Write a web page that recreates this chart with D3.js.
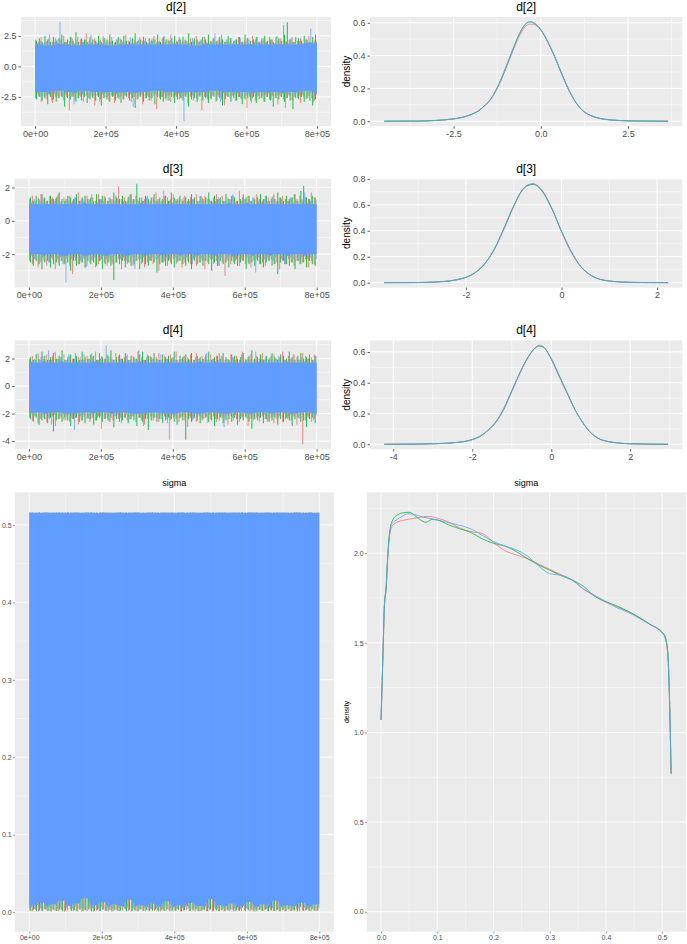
<!DOCTYPE html>
<html><head><meta charset="utf-8">
<script src="https://cdn.jsdelivr.net/npm/d3@7"></script>
<style>body{margin:0;background:#fff}svg{display:block}</style>
</head><body><svg id="c" width="687" height="944"></svg>
<script>
const chainColors = ["#F8766D", "#00BA38", "#619CFF"];
const iterMax = 800000;
const traceXTicks = [0, 200000, 400000, 600000, 800000];
const traceXLabels = ["0e+00", "2e+05", "4e+05", "6e+05", "8e+05"];

// ---------- d[2] trace (per-chain envelope highs / lows along the run) ----------
const d2RedHi = [2.2,2.0,2.4,1.9,2.1,2.6,2.0,2.3,1.9,2.2,2.5,2.0,2.1,2.3,1.9,2.4,2.2,2.0,2.7,2.1,2.0,2.3,1.9,2.2,2.5,2.0,2.1,2.4,1.9,2.2,2.3,2.0,2.6,2.1,1.9,2.2,2.0,2.4,2.1,2.3,1.9,2.2,2.5,2.0,2.1,2.3,2.0,2.2,2.6,1.9,2.1,2.4,2.0,2.2,1.9,2.3,2.1,2.5,2.0,2.2,2.4,1.9,2.1,2.3,2.0,2.2,2.6,2.0,2.1,2.3,1.9,2.2,2.4,2.0,2.1,2.3,1.9,2.5,2.2,2.0,2.1,2.3,2.0,2.4,2.2,1.9,2.1,2.3,3.4,2.0,2.2,2.4,2.0,2.1,2.3,1.9,2.2,2.5,2.0,2.1];
const d2RedLo = [-2.6,-2.4,-2.9,-2.5,-2.7,-2.3,-3.0,-2.5,-2.6,-2.4,-2.8,-2.5,-3.6,-2.4,-2.7,-2.6,-2.5,-2.9,-2.4,-2.6,-2.5,-3.2,-2.4,-2.7,-2.6,-2.5,-2.8,-2.4,-3.0,-2.6,-2.5,-2.7,-2.4,-2.6,-2.9,-2.5,-2.7,-2.4,-3.1,-2.6,-2.5,-2.8,-2.4,-3.5,-2.6,-2.5,-2.7,-2.4,-2.9,-2.6,-2.5,-2.7,-2.6,-2.4,-3.0,-2.5,-2.8,-2.6,-2.4,-3.6,-2.5,-2.7,-2.6,-2.4,-2.9,-2.5,-2.7,-3.2,-2.5,-2.6,-2.4,-2.8,-2.5,-2.7,-2.6,-3.4,-2.5,-2.6,-2.8,-2.4,-2.6,-2.9,-2.5,-2.7,-2.4,-2.6,-3.1,-2.5,-2.7,-2.6,-2.4,-2.8,-2.5,-2.6,-3.0,-2.5,-2.7,-2.4,-2.6,-2.8];
const d2GreenHi = [2.1,2.3,2.0,2.5,2.2,2.0,2.4,2.1,2.3,2.6,2.0,2.2,2.4,2.1,2.8,2.0,2.3,2.2,2.0,2.4,2.2,2.1,2.5,2.0,2.3,2.2,2.6,2.1,2.0,2.4,2.2,2.5,2.1,2.0,2.3,2.7,2.1,2.2,2.4,2.0,2.3,2.1,2.2,2.6,2.0,2.4,2.2,2.1,2.3,2.5,2.0,2.2,2.4,2.1,2.7,2.0,2.3,2.2,2.1,2.4,2.2,2.6,2.0,2.3,2.1,2.4,2.2,2.0,2.5,2.3,2.1,2.2,2.4,2.0,2.6,2.3,2.1,2.2,2.4,2.0,2.3,2.5,2.1,2.2,2.0,2.4,2.3,2.1,2.6,3.6,2.2,2.0,2.4,2.3,2.1,2.5,2.2,2.0,2.4,2.6];
const d2GreenLo = [-2.7,-2.5,-2.8,-2.6,-3.1,-2.5,-2.7,-2.9,-2.6,-2.5,-3.3,-2.6,-2.7,-2.5,-2.9,-2.6,-2.8,-2.5,-3.0,-2.7,-2.6,-2.8,-2.5,-3.2,-2.6,-2.7,-2.9,-2.5,-2.8,-2.6,-3.0,-2.7,-2.5,-2.8,-2.6,-3.4,-2.7,-2.5,-2.9,-2.6,-2.8,-2.6,-3.1,-2.5,-2.7,-2.9,-2.6,-2.8,-2.5,-3.0,-2.7,-2.6,-2.8,-2.5,-3.3,-2.7,-2.6,-2.9,-2.5,-2.8,-2.6,-3.0,-2.7,-2.5,-2.8,-2.6,-3.2,-2.7,-2.5,-2.9,-2.6,-2.8,-2.5,-3.1,-2.7,-2.6,-2.8,-2.5,-3.0,-2.7,-2.6,-2.9,-2.5,-2.8,-3.3,-2.6,-2.7,-2.5,-2.9,-2.6,-2.8,-3.5,-2.6,-2.7,-2.5,-2.9,-2.6,-2.8,-3.2,-2.7];
const d2BlueHi = [1.9,2.1,1.8,2.0,2.3,1.7,2.0,2.2,3.65,1.9,2.0,1.8,2.4,1.9,2.1,1.7,2.0,2.2,1.9,2.6,1.8,2.0,2.1,1.9,2.3,1.8,2.0,1.7,2.2,1.9,2.1,2.0,1.8,2.4,1.9,2.0,2.2,1.8,2.1,1.9,2.0,2.3,1.8,2.0,1.9,2.5,1.8,2.1,2.0,1.9,2.2,1.8,2.0,2.1,1.9,2.3,1.7,2.0,2.2,1.9,2.0,1.8,2.1,2.7,1.9,2.0,1.8,2.2,2.0,1.9,2.1,1.8,2.3,1.9,2.0,2.2,1.8,2.0,2.4,1.9,2.1,2.0,1.8,2.2,1.9,2.5,2.0,1.8,2.1,1.9,2.3,2.0,1.8,2.1,1.9,2.2,2.0,3.1,1.9,2.0];
const d2BlueLo = [-2.2,-2.5,-2.1,-2.4,-2.3,-2.8,-2.2,-2.4,-2.0,-2.6,-2.3,-2.1,-2.5,-3.1,-2.2,-2.4,-2.3,-2.0,-2.6,-2.2,-2.4,-2.1,-2.9,-2.3,-2.2,-2.5,-2.1,-2.4,-2.3,-2.7,-2.2,-2.4,-2.1,-2.3,-3.3,-2.2,-2.5,-2.3,-2.1,-2.4,-2.6,-2.2,-2.3,-2.0,-2.5,-2.2,-2.8,-2.3,-2.1,-2.4,-2.2,-2.6,-4.49,-2.3,-2.1,-2.4,-2.2,-2.7,-2.3,-2.1,-2.5,-2.2,-2.4,-2.0,-2.3,-2.9,-2.2,-2.4,-2.1,-2.5,-2.3,-2.2,-2.6,-2.1,-2.4,-2.3,-3.0,-2.2,-2.5,-2.1,-2.4,-2.3,-2.2,-2.7,-2.1,-2.4,-2.3,-2.2,-3.4,-2.3,-2.1,-2.5,-2.2,-2.4,-2.3,-2.0,-2.6,-2.2,-2.9,-2.3];

// ---------- d[3] trace ----------
const d3RedHi = [1.3,1.5,1.2,1.4,1.6,1.3,1.2,1.5,1.4,1.3,1.6,1.2,1.4,1.3,1.5,1.2,1.4,1.7,1.3,1.2,1.5,1.3,1.4,1.2,1.6,1.3,1.5,1.2,1.4,1.3,1.5,2.06,1.3,1.4,1.2,1.6,1.3,1.5,1.2,1.4,1.3,1.5,1.2,1.4,1.7,1.3,1.2,1.5,1.4,1.3,1.6,1.2,1.4,1.3,1.5,1.2,1.4,1.3,1.6,1.2,1.4,1.5,1.3,1.2,1.4,1.6,1.3,1.5,1.2,1.4,1.3,1.5,1.2,1.8,1.4,1.3,1.5,1.2,1.4,1.6,1.3,1.2,1.5,1.4,1.3,1.6,1.2,1.4,1.5,1.3,1.2,1.4,1.6,1.3,1.5,1.2,1.4,1.3,1.7,1.4];
const d3RedLo = [-2.4,-2.6,-2.3,-2.8,-2.5,-2.4,-2.7,-2.5,-2.3,-2.9,-2.5,-2.4,-2.6,-2.3,-2.7,-3.2,-2.4,-2.6,-2.5,-2.3,-2.7,-2.5,-2.4,-2.8,-2.6,-2.3,-2.5,-2.7,-2.4,-2.6,-2.5,-2.3,-2.9,-2.4,-2.6,-2.5,-2.7,-2.4,-2.3,-2.6,-2.8,-2.5,-2.4,-2.6,-2.3,-3.0,-2.5,-2.4,-2.7,-2.5,-2.3,-2.6,-2.4,-2.8,-2.5,-2.4,-2.6,-2.3,-2.7,-2.5,-2.4,-2.9,-2.5,-2.3,-2.6,-2.4,-2.7,-2.5,-3.3,-2.4,-2.6,-2.5,-2.3,-2.7,-2.4,-2.6,-2.5,-2.8,-2.4,-2.3,-2.6,-2.5,-2.7,-2.4,-2.3,-2.6,-2.5,-2.9,-2.4,-2.6,-2.3,-2.5,-2.7,-2.4,-2.6,-2.5,-2.3,-2.8,-2.4,-2.6];
const d3GreenHi = [1.4,1.2,1.5,1.3,1.6,1.4,1.2,1.5,1.3,1.4,1.7,1.3,1.2,1.5,1.4,1.3,1.6,1.2,1.4,1.5,1.3,1.4,1.2,1.6,1.3,1.5,1.4,1.2,1.3,1.7,1.4,1.3,1.5,1.2,1.4,1.6,1.3,2.23,1.4,1.2,1.5,1.3,1.4,1.6,1.2,1.4,1.3,1.5,1.2,1.7,1.4,1.3,1.5,1.2,1.4,1.3,1.6,1.4,1.2,1.5,1.3,1.4,1.7,1.2,1.5,1.3,1.4,1.2,1.6,1.3,1.5,1.4,1.2,1.3,1.6,1.4,1.5,1.2,1.3,1.4,1.6,1.3,1.5,1.2,1.4,1.3,1.7,1.4,1.2,1.5,1.3,1.4,1.6,1.2,1.8,2.1,1.4,1.3,1.5,1.4];
const d3GreenLo = [-2.5,-2.7,-2.4,-2.6,-2.9,-2.5,-2.4,-2.8,-2.6,-2.5,-2.7,-2.4,-2.6,-2.5,-3.0,-2.4,-2.7,-2.6,-2.5,-2.8,-2.4,-2.6,-2.5,-2.7,-2.4,-2.9,-2.6,-2.5,-2.7,-3.55,-2.5,-2.6,-2.4,-2.8,-2.5,-2.7,-2.6,-2.4,-2.9,-2.5,-2.6,-2.7,-2.4,-2.5,-3.1,-2.6,-2.5,-2.7,-2.4,-2.6,-2.8,-2.5,-2.4,-2.6,-2.7,-2.5,-2.9,-2.4,-2.6,-2.5,-2.7,-2.4,-2.6,-3.0,-2.5,-2.7,-2.4,-2.6,-2.5,-2.8,-2.4,-2.6,-2.7,-2.5,-2.4,-2.9,-2.6,-2.5,-2.7,-2.4,-2.6,-2.8,-2.5,-2.4,-2.7,-2.6,-3.2,-2.5,-2.4,-2.6,-2.7,-2.5,-2.9,-2.4,-2.6,-2.5,-2.8,-2.4,-2.6,-2.7];
const d3BlueHi = [1.1,1.3,1.0,1.2,1.4,1.1,1.0,1.3,1.2,1.5,1.1,1.0,1.3,1.2,1.1,1.4,1.0,1.2,1.3,1.1,1.2,1.6,1.0,1.1,1.3,1.2,1.0,1.4,1.1,1.2,1.3,1.0,1.2,1.1,1.5,1.2,1.0,1.3,1.1,1.2,1.4,1.1,1.0,1.2,1.3,1.1,1.8,1.0,1.2,1.1,1.3,1.2,1.0,1.4,1.1,1.2,1.3,1.0,1.1,1.5,1.2,1.0,1.3,1.1,1.2,1.4,1.0,1.2,1.1,1.3,1.6,1.1,1.0,1.2,1.3,1.1,1.2,1.4,1.0,1.2,1.1,1.3,1.2,1.0,1.5,1.1,1.2,1.3,1.0,1.2,1.4,1.1,1.2,1.0,1.3,1.7,1.1,1.2,1.0,1.3];
const d3BlueLo = [-2.1,-2.3,-2.0,-2.4,-2.2,-2.1,-2.5,-2.2,-2.0,-2.3,-2.2,-2.6,-3.71,-2.1,-2.3,-2.2,-2.0,-2.4,-2.2,-2.8,-2.1,-2.3,-2.2,-2.0,-2.4,-2.1,-2.3,-2.2,-2.5,-2.1,-2.0,-2.3,-2.2,-2.4,-2.1,-2.2,-2.9,-2.0,-2.3,-2.2,-2.1,-2.4,-2.2,-2.0,-2.3,-2.1,-2.5,-2.2,-2.3,-2.0,-2.2,-2.4,-2.1,-2.3,-2.2,-2.0,-2.6,-2.2,-2.1,-2.3,-2.4,-2.0,-2.2,-2.3,-2.1,-2.7,-2.2,-2.0,-2.3,-2.1,-2.2,-2.4,-2.1,-2.3,-2.0,-2.2,-2.5,-2.1,-3.1,-2.2,-2.0,-2.3,-2.2,-2.1,-2.4,-2.2,-2.0,-2.3,-2.6,-2.1,-2.2,-2.3,-2.0,-2.4,-2.2,-2.1,-2.3,-2.2,-2.0,-2.3];

// ---------- d[4] trace ----------
const d4RedHi = [2.0,2.2,1.9,2.4,2.1,2.0,2.3,1.9,2.2,2.5,2.0,2.1,2.3,1.9,2.2,2.0,2.4,2.1,1.9,2.3,2.2,2.0,2.1,2.5,1.9,2.2,2.0,2.3,2.1,1.9,2.4,2.2,2.0,2.1,2.3,1.9,2.2,2.0,2.6,2.1,1.9,2.3,2.2,2.0,2.1,2.4,1.9,2.2,2.0,2.3,2.1,2.5,1.9,2.0,2.2,2.1,2.3,1.9,2.4,2.0,2.2,2.1,1.9,2.3,2.0,2.2,2.4,2.1,1.9,2.0,2.3,2.1,2.2,1.9,2.5,2.0,2.1,2.3,1.9,2.2,2.0,2.4,2.1,1.9,2.2,2.3,2.0,2.1,2.5,1.9,2.2,2.0,2.3,2.1,1.9,2.4,2.2,2.0,2.1,2.3];
const d4RedLo = [-2.3,-2.5,-2.2,-2.7,-2.4,-2.3,-2.6,-2.4,-2.2,-2.9,-2.4,-2.3,-2.5,-2.2,-2.6,-2.4,-2.3,-2.8,-2.5,-2.2,-2.4,-2.6,-2.3,-2.5,-2.2,-3.1,-2.4,-2.3,-2.6,-2.5,-2.2,-2.4,-2.7,-2.3,-2.5,-2.4,-2.2,-2.6,-2.3,-2.5,-2.8,-2.4,-2.2,-2.5,-2.3,-2.6,-2.4,-2.2,-2.7,-2.5,-2.3,-2.4,-2.6,-2.2,-2.5,-3.0,-2.3,-2.4,-2.6,-2.2,-2.5,-2.3,-2.7,-2.4,-2.2,-2.6,-2.5,-2.3,-2.4,-2.8,-2.2,-2.5,-2.4,-2.6,-2.3,-2.2,-2.9,-2.4,-2.5,-2.3,-2.6,-2.2,-2.4,-2.5,-2.3,-2.7,-2.4,-2.2,-2.6,-2.4,-2.3,-2.5,-2.2,-2.8,-2.4,-4.23,-2.5,-2.3,-2.6,-2.4];
const d4GreenHi = [2.1,1.9,2.3,2.0,2.5,2.2,1.9,2.1,2.4,2.0,2.2,2.6,1.9,2.1,2.3,2.0,2.2,1.9,2.5,2.1,2.0,2.3,2.2,1.9,2.4,2.1,2.0,2.2,2.6,1.9,2.1,2.3,2.0,2.4,1.9,2.2,2.1,2.0,2.3,2.5,1.9,2.2,2.1,2.4,2.0,1.9,2.3,2.1,2.2,2.0,2.5,1.9,2.2,2.1,2.3,2.0,2.4,1.9,2.2,2.1,2.0,2.3,2.5,1.9,2.1,2.2,2.0,2.4,2.1,1.9,2.3,2.2,2.0,2.1,2.4,1.9,2.2,2.6,2.0,2.1,2.3,1.9,2.2,2.0,2.4,2.1,1.9,2.3,2.2,2.0,2.5,2.1,1.9,2.2,2.4,2.0,2.1,2.3,1.9,2.2];
const d4GreenLo = [-2.4,-2.6,-2.3,-2.8,-2.5,-2.4,-2.7,-2.3,-3.3,-2.5,-2.4,-2.6,-2.3,-2.5,-2.9,-2.4,-2.3,-2.6,-2.5,-2.7,-2.3,-2.4,-2.8,-2.5,-2.3,-2.6,-2.4,-2.5,-2.3,-3.0,-2.4,-2.6,-2.5,-2.3,-2.7,-2.4,-2.5,-2.9,-2.3,-2.6,-2.4,-3.2,-2.5,-2.3,-2.6,-2.4,-2.7,-2.5,-2.3,-2.4,-2.6,-2.8,-2.3,-2.5,-3.9,-2.4,-2.6,-2.3,-2.5,-2.7,-2.4,-2.3,-2.6,-2.5,-2.9,-2.4,-2.3,-2.7,-2.5,-2.4,-2.6,-2.3,-2.8,-2.4,-2.5,-2.3,-2.6,-3.1,-2.4,-2.5,-2.3,-2.7,-2.4,-2.6,-2.5,-2.3,-2.8,-2.4,-2.6,-2.3,-2.5,-2.9,-2.4,-2.3,-2.6,-2.5,-3.0,-2.4,-2.3,-2.7];
const d4BlueHi = [1.8,2.0,1.7,1.9,2.2,1.8,2.6,1.9,1.7,2.0,2.1,1.8,1.9,2.3,1.7,2.0,1.8,2.1,1.9,1.7,2.0,2.4,1.8,1.9,2.0,1.7,2.96,1.8,2.1,1.9,1.7,2.0,1.8,2.2,1.9,1.7,2.0,2.5,1.8,1.9,2.1,1.7,2.0,1.8,1.9,2.3,1.7,2.0,1.8,2.1,1.9,1.7,2.0,2.2,1.8,1.9,1.7,2.1,2.0,1.8,1.9,2.4,1.7,2.0,1.8,1.9,2.2,1.7,2.0,1.8,2.1,1.9,1.7,2.3,1.8,2.0,1.9,1.7,2.5,1.8,2.0,1.9,1.7,2.1,1.8,2.0,2.2,1.7,1.9,1.8,2.0,2.3,1.7,1.9,2.1,1.8,2.0,1.7,1.9,2.2];
const d4BlueLo = [-2.0,-2.2,-1.9,-2.4,-2.1,-2.0,-2.3,-2.8,-2.1,-1.9,-2.2,-2.0,-2.5,-2.1,-2.3,-3.2,-2.0,-2.2,-2.1,-1.9,-2.4,-2.1,-2.0,-2.3,-2.2,-1.9,-2.1,-2.6,-2.0,-2.2,-2.1,-2.3,-1.9,-2.0,-2.4,-2.2,-2.1,-2.0,-2.3,-2.9,-2.1,-2.0,-2.2,-1.9,-2.3,-2.1,-2.0,-2.4,-3.9,-2.1,-2.2,-2.0,-2.3,-2.1,-1.9,-2.2,-2.5,-2.0,-2.1,-2.3,-2.0,-2.2,-2.1,-1.9,-2.4,-2.0,-2.2,-3.0,-2.1,-2.0,-2.3,-2.1,-1.9,-2.2,-2.0,-2.4,-2.1,-2.3,-2.0,-2.2,-1.9,-2.1,-2.6,-2.0,-2.2,-2.1,-2.3,-1.9,-2.0,-2.4,-2.1,-2.2,-2.0,-2.3,-2.1,-1.9,-2.2,-2.0,-2.5,-2.1];

// ---------- sigma trace ----------
const sigRedHi = [.5160,.5161,.5159,.5162,.5160,.5161,.5163,.5159,.5160,.5162,.5161,.5159,.5160,.5162,.5161,.5160,.5159,.5163,.5160,.5161,.5162,.5159,.5160,.5161,.5160,.5162,.5159,.5161,.5160,.5163,.5159,.5161,.5160,.5162,.5160,.5159,.5161,.5162,.5160,.5159,.5161,.5163,.5160,.5159,.5162,.5160,.5161,.5159,.5160,.5162,.5161,.5160,.5159,.5163,.5160,.5161,.5162,.5159,.5160,.5161,.5160,.5162,.5159,.5161,.5160,.5163,.5159,.5161,.5160,.5162,.5160,.5159,.5161,.5162,.5160,.5159,.5161,.5163,.5160,.5159,.5162,.5160,.5161,.5159,.5160,.5162,.5161,.5160,.5159,.5163,.5160,.5161,.5162,.5159,.5160,.5161,.5160,.5162,.5159,.5161];
const sigRedLo = [.0020,.0010,.0030,.0008,.0025,.0040,.0012,.0018,.0030,.0015,.0010,.0028,.0005,.0022,.0035,.0012,.0020,.0038,.0010,.0024,.0016,.0030,.0008,.0020,.0012,.0034,.0018,.0009,.0026,.0014,.0030,.0011,.0022,.0040,.0015,.0008,.0025,.0012,.0032,.0018,.0010,.0024,.0036,.0014,.0020,.0009,.0028,.0016,.0030,.0012,.0022,.0038,.0010,.0018,.0026,.0013,.0034,.0008,.0020,.0015,.0030,.0012,.0024,.0010,.0036,.0018,.0022,.0009,.0028,.0014,.0032,.0011,.0020,.0016,.0025,.0040,.0012,.0022,.0008,.0030,.0018,.0026,.0010,.0034,.0015,.0020,.0012,.0028,.0009,.0036,.0014,.0022,.0030,.0010,.0024,.0018,.0032,.0012,.0020,.0016];
const sigGreenHi = [.5161,.5159,.5160,.5162,.5158,.5161,.5160,.5159,.5162,.5160,.5158,.5161,.5160,.5162,.5159,.5160,.5161,.5158,.5160,.5162,.5159,.5161,.5160,.5158,.5162,.5160,.5159,.5161,.5160,.5158,.5161,.5162,.5159,.5160,.5161,.5158,.5160,.5162,.5159,.5161,.5160,.5158,.5162,.5160,.5159,.5161,.5160,.5158,.5161,.5162,.5159,.5160,.5161,.5158,.5160,.5162,.5159,.5161,.5160,.5158,.5162,.5160,.5159,.5161,.5160,.5158,.5161,.5162,.5159,.5160,.5161,.5158,.5160,.5162,.5159,.5161,.5160,.5158,.5162,.5160,.5159,.5161,.5160,.5158,.5161,.5162,.5159,.5160,.5161,.5158,.5160,.5162,.5159,.5161,.5160,.5158,.5162,.5160,.5159,.5161];
const sigGreenLo = [.0015,.0030,.0010,.0022,.0012,.0035,.0018,.0008,.0026,.0014,.0032,.0011,.0020,.0080,.0016,.0024,.0009,.0030,.0013,.0021,.0038,.0010,.0019,.0027,.0012,.0033,.0016,.0024,.0009,.0030,.0014,.0020,.0070,.0011,.0028,.0017,.0022,.0010,.0036,.0015,.0025,.0012,.0019,.0031,.0009,.0023,.0014,.0034,.0011,.0020,.0016,.0029,.0010,.0024,.0075,.0013,.0021,.0032,.0009,.0018,.0026,.0012,.0035,.0015,.0022,.0010,.0028,.0014,.0020,.0033,.0011,.0025,.0017,.0060,.0012,.0023,.0030,.0010,.0019,.0027,.0014,.0036,.0011,.0021,.0016,.0029,.0009,.0024,.0013,.0031,.0018,.0022,.0010,.0065,.0015,.0026,.0012,.0034,.0017,.0020];
const sigBlueHi = [.5157,.5156,.5158,.5155,.5157,.5159,.5156,.5157,.5155,.5158,.5156,.5157,.5159,.5155,.5156,.5158,.5157,.5156,.5155,.5158,.5157,.5159,.5156,.5155,.5157,.5158,.5156,.5157,.5155,.5159,.5156,.5158,.5157,.5155,.5156,.5158,.5157,.5159,.5156,.5155,.5157,.5158,.5156,.5157,.5155,.5159,.5156,.5157,.5158,.5155,.5156,.5157,.5159,.5156,.5155,.5158,.5157,.5156,.5155,.5158,.5157,.5159,.5156,.5155,.5157,.5158,.5156,.5157,.5155,.5159,.5156,.5158,.5157,.5155,.5156,.5158,.5157,.5159,.5156,.5155,.5157,.5158,.5156,.5157,.5155,.5159,.5156,.5157,.5158,.5155,.5156,.5157,.5159,.5156,.5155,.5158,.5157,.5156,.5155,.5158];
const sigBlueLo = [.006,.004,.009,.005,.012,.004,.007,.005,.010,.004,.006,.015,.005,.008,.004,.007,.011,.005,.004,.018,.006,.005,.009,.004,.007,.013,.005,.006,.004,.010,.005,.008,.004,.006,.016,.005,.007,.004,.009,.005,.006,.004,.011,.005,.007,.004,.008,.014,.005,.006,.004,.009,.005,.007,.004,.012,.006,.005,.008,.004,.007,.005,.017,.006,.004,.009,.005,.007,.004,.011,.005,.006,.004,.008,.005,.013,.006,.004,.007,.005,.010,.004,.006,.005,.015,.004,.007,.005,.009,.006,.004,.008,.005,.012,.006,.004,.007,.005,.010,.005];

// ---------- posterior densities ----------
const d2DensX = [-4.49,-3.5,-3.0,-2.5,-2.2,-2.0,-1.8,-1.6,-1.4,-1.2,-1.0,-0.8,-0.6,-0.4,-0.3,-0.2,0.0,0.2,0.4,0.6,0.8,1.0,1.2,1.4,1.6,1.8,2.2,2.6,3.0,3.65];
const d2DensRed = [0,0.001,0.005,0.015,0.027,0.041,0.062,0.095,0.142,0.220,0.320,0.428,0.525,0.585,0.592,0.590,0.556,0.487,0.394,0.290,0.193,0.117,0.066,0.038,0.022,0.013,0.005,0.002,0.001,0];
const d2DensGreen = [0,0.001,0.005,0.014,0.026,0.041,0.061,0.098,0.147,0.228,0.330,0.440,0.540,0.600,0.606,0.598,0.556,0.482,0.392,0.290,0.193,0.116,0.065,0.037,0.022,0.013,0.005,0.002,0.001,0];
const d2DensBlue = [0,0.001,0.005,0.014,0.026,0.040,0.060,0.097,0.145,0.225,0.325,0.435,0.535,0.597,0.605,0.600,0.560,0.485,0.390,0.285,0.190,0.115,0.065,0.038,0.022,0.013,0.005,0.002,0.001,0];

const d3DensX = [-3.71,-3.0,-2.5,-2.2,-2.0,-1.8,-1.6,-1.4,-1.2,-1.0,-0.8,-0.7,-0.6,-0.5,-0.4,-0.2,0.0,0.2,0.4,0.6,0.8,1.0,1.3,1.7,2.23];
const d3DensRed = [0,0.001,0.008,0.023,0.042,0.078,0.146,0.258,0.415,0.585,0.722,0.752,0.760,0.748,0.710,0.572,0.392,0.236,0.123,0.061,0.027,0.013,0.004,0.001,0];
const d3DensGreen = [0,0.001,0.007,0.021,0.040,0.079,0.148,0.264,0.424,0.594,0.722,0.750,0.758,0.742,0.702,0.568,0.397,0.243,0.127,0.060,0.026,0.012,0.004,0.001,0];
const d3DensBlue = [0,0.001,0.008,0.022,0.041,0.080,0.150,0.262,0.420,0.590,0.725,0.755,0.763,0.745,0.705,0.570,0.395,0.240,0.125,0.060,0.026,0.013,0.004,0.001,0];

const d4DensX = [-4.23,-3.5,-2.9,-2.4,-2.0,-1.8,-1.6,-1.4,-1.2,-1.0,-0.8,-0.6,-0.4,-0.3,-0.2,0.0,0.2,0.4,0.6,0.8,1.0,1.2,1.4,1.6,2.0,2.5,2.96];
const d4DensRed = [0,0.001,0.004,0.011,0.031,0.053,0.090,0.142,0.226,0.340,0.456,0.558,0.630,0.643,0.634,0.553,0.440,0.332,0.224,0.140,0.076,0.038,0.020,0.011,0.003,0.001,0];
const d4DensGreen = [0,0.001,0.004,0.012,0.030,0.051,0.091,0.147,0.233,0.348,0.462,0.561,0.626,0.638,0.630,0.558,0.448,0.338,0.227,0.141,0.075,0.037,0.019,0.011,0.003,0.001,0];
const d4DensBlue = [0,0.001,0.004,0.011,0.030,0.052,0.092,0.145,0.230,0.345,0.460,0.560,0.628,0.640,0.632,0.555,0.445,0.335,0.225,0.140,0.075,0.037,0.020,0.011,0.003,0.001,0];

const sigDensX = [0,0.002,0.004,0.006,0.009,0.012,0.015,0.02,0.03,0.04,0.05,0.06,0.07,0.08,0.09,0.10,0.12,0.14,0.16,0.18,0.20,0.22,0.24,0.26,0.28,0.30,0.32,0.34,0.36,0.38,0.40,0.42,0.44,0.46,0.48,0.50,0.505,0.51,0.513,0.516];
const sigDensRed = [1.07,1.28,1.50,1.70,1.80,1.97,2.09,2.15,2.175,2.183,2.19,2.195,2.20,2.205,2.203,2.195,2.175,2.14,2.12,2.11,2.06,2.015,1.99,1.97,1.94,1.91,1.88,1.85,1.80,1.76,1.725,1.70,1.675,1.64,1.60,1.555,1.53,1.44,1.20,0.77];
const sigDensGreen = [1.07,1.28,1.50,1.71,1.81,1.99,2.11,2.18,2.215,2.225,2.228,2.21,2.185,2.172,2.188,2.185,2.158,2.136,2.115,2.08,2.055,2.04,2.01,1.97,1.935,1.905,1.875,1.85,1.815,1.76,1.73,1.705,1.675,1.64,1.60,1.56,1.54,1.45,1.20,0.77];
const sigDensBlue = [1.07,1.28,1.50,1.71,1.80,1.98,2.10,2.165,2.19,2.21,2.22,2.215,2.205,2.198,2.192,2.185,2.17,2.155,2.135,2.10,2.065,2.04,2.019,1.985,1.93,1.885,1.877,1.85,1.80,1.765,1.73,1.695,1.67,1.635,1.60,1.555,1.53,1.44,1.20,0.77];

// ---------- drawing ----------
const FONT = "'Liberation Sans', Arial, Helvetica, sans-serif";
const svg = d3.select("#c");
let clipCount = 0;

function expandDomain(vals) {
  const [lo, hi] = d3.extent(vals);
  const r = hi - lo;
  return [lo - 0.05 * r, hi + 0.05 * r];
}
function minorOf(ticks, dom) {
  const step = ticks[1] - ticks[0];
  const out = [];
  for (let k = -1; k < ticks.length; k++) {
    const v = ticks[0] + (k + 0.5) * step;
    if (v > dom[0] && v < dom[1]) out.push(v);
  }
  return out;
}
function fmt(ticks, labels) { return (d) => labels[ticks.indexOf(d)]; }

function makePanel(c) {
  const g = svg.append("g");
  const b = c.box;
  const x = d3.scaleLinear().domain(c.xDom).range([b.l, b.r]);
  const y = d3.scaleLinear().domain(c.yDom).range([b.b, b.t]);
  g.append("rect").attr("x", b.l).attr("y", b.t).attr("width", b.r - b.l).attr("height", b.b - b.t).attr("fill", "#EBEBEB");
  const grid = g.append("g").attr("stroke", "#FFFFFF").attr("fill", "none");
  minorOf(c.yTicks, c.yDom).forEach(v => grid.append("line").attr("x1", b.l).attr("x2", b.r).attr("y1", y(v)).attr("y2", y(v)).attr("stroke-width", c.minW));
  minorOf(c.xTicks, c.xDom).forEach(v => grid.append("line").attr("x1", x(v)).attr("x2", x(v)).attr("y1", b.t).attr("y2", b.b).attr("stroke-width", c.minW));
  c.yTicks.forEach(v => grid.append("line").attr("x1", b.l).attr("x2", b.r).attr("y1", y(v)).attr("y2", y(v)).attr("stroke-width", c.majW));
  c.xTicks.forEach(v => grid.append("line").attr("x1", x(v)).attr("x2", x(v)).attr("y1", b.t).attr("y2", b.b).attr("stroke-width", c.majW));
  const id = "clip" + (++clipCount);
  g.append("clipPath").attr("id", id).append("rect").attr("x", b.l).attr("y", b.t).attr("width", b.r - b.l).attr("height", b.b - b.t);
  const plot = g.append("g").attr("clip-path", `url(#${id})`);

  const ax = g.append("g").attr("transform", `translate(0,${b.b})`)
    .call(d3.axisBottom(x).tickValues(c.xTicks).tickFormat(fmt(c.xTicks, c.xLabels)).tickSize(c.tickLen).tickPadding(c.pad));
  const ay = g.append("g").attr("transform", `translate(${b.l},0)`)
    .call(d3.axisLeft(y).tickValues(c.yTicks).tickFormat(fmt(c.yTicks, c.yLabels)).tickSize(c.tickLen).tickPadding(c.pad));
  [ax, ay].forEach(a => {
    a.select(".domain").remove();
    a.attr("font-family", FONT).attr("font-size", c.fs);
    a.selectAll(".tick line").attr("stroke", "#333333").attr("stroke-width", c.tickW);
    a.selectAll(".tick text").attr("fill", "#4D4D4D");
  });
  g.append("text").attr("x", (b.l + b.r) / 2).attr("y", b.t - c.titleGap)
    .attr("text-anchor", "middle").attr("font-family", FONT).attr("font-size", c.titleFs).attr("fill", "#000").text(c.title);
  if (c.yTitle) {
    g.append("text").attr("transform", `translate(${c.yTitleX},${(b.t + b.b) / 2}) rotate(-90)`)
      .attr("text-anchor", "middle").attr("font-family", FONT).attr("font-size", c.yTitleFs).attr("fill", "#000").text(c.yTitle);
  }
  return { x, y, plot };
}

// chains drawn in order; only the last (topmost) chain gets a solid core band,
// the others show as thin excursions beyond it
function drawTrace(p, chains, spikeW, win) {
  chains.forEach((ch, c) => {
    const N = ch.hi.length;
    const idx = d3.range(N);
    const itArea = i => i / (N - 1) * iterMax;
    const itSpike = i => (i + (c + 0.5) / 3) / N * iterMax;
    if (c === chains.length - 1) {
      const nb = i => d3.range(Math.max(0, i - win), Math.min(N - 1, i + win) + 1);
      const coreHi = idx.map(i => d3.min(nb(i), k => ch.hi[k]));
      const coreLo = idx.map(i => d3.max(nb(i), k => ch.lo[k]));
      p.plot.append("path").datum(idx).attr("fill", ch.color)
        .attr("d", d3.area().x(i => p.x(itArea(i))).y0(i => p.y(coreLo[i])).y1(i => p.y(coreHi[i])));
    }
    p.plot.append("g").selectAll("line").data(idx).join("line")
      .attr("x1", i => p.x(itSpike(i))).attr("x2", i => p.x(itSpike(i)))
      .attr("y1", i => p.y(ch.lo[i])).attr("y2", i => p.y(ch.hi[i]))
      .attr("stroke", ch.color).attr("stroke-width", spikeW).attr("stroke-opacity", c === 2 ? 0.75 : 0.9);
  });
}

function drawDensity(p, xs, chains, w) {
  chains.forEach(ch => {
    p.plot.append("path").datum(xs.map((v, i) => [v, ch.vals[i]]))
      .attr("fill", "none").attr("stroke", ch.color).attr("stroke-width", w)
      .attr("d", d3.line().x(d => p.x(d[0])).y(d => p.y(d[1])).curve(d3.curveMonotoneX));
  });
}

const topStyle = { fs: 9, tickLen: 2.5, tickW: 0.8, pad: 2, majW: 1.0, minW: 0.5, titleFs: 12, titleGap: 6, yTitleFs: 10, yTitleX: 349.5 };
const botStyle = { fs: 7, tickLen: 1.6, tickW: 0.6, pad: 1.5, majW: 0.8, minW: 0.4, titleFs: 9, titleGap: 6, yTitleFs: 7, yTitleX: 349 };

const rows = [
  { t: 16.8, b: 126.2 }, { t: 178.7, b: 287.6 }, { t: 340.4, b: 449.2 }, { t: 492.3, b: 931.7 }
];

const traces = [
  { title: "d[2]", l: 21, hi: [d2RedHi, d2GreenHi, d2BlueHi], lo: [d2RedLo, d2GreenLo, d2BlueLo],
    yTicks: [-2.5, 0, 2.5], yLabels: ["-2.5", "0.0", "2.5"],
    densX: d2DensX, dens: [d2DensRed, d2DensGreen, d2DensBlue], dxTicks: [-2.5, 0, 2.5], dxLabels: ["-2.5", "0.0", "2.5"],
    dyTicks: [0, 0.2, 0.4, 0.6], dyLabels: ["0.0", "0.2", "0.4", "0.6"] },
  { title: "d[3]", l: 14.6, hi: [d3RedHi, d3GreenHi, d3BlueHi], lo: [d3RedLo, d3GreenLo, d3BlueLo],
    yTicks: [-2, 0, 2], yLabels: ["-2", "0", "2"],
    densX: d3DensX, dens: [d3DensRed, d3DensGreen, d3DensBlue], dxTicks: [-2, 0, 2], dxLabels: ["-2", "0", "2"],
    dyTicks: [0, 0.2, 0.4, 0.6, 0.8], dyLabels: ["0.0", "0.2", "0.4", "0.6", "0.8"] },
  { title: "d[4]", l: 14.6, hi: [d4RedHi, d4GreenHi, d4BlueHi], lo: [d4RedLo, d4GreenLo, d4BlueLo],
    yTicks: [-4, -2, 0, 2], yLabels: ["-4", "-2", "0", "2"],
    densX: d4DensX, dens: [d4DensRed, d4DensGreen, d4DensBlue], dxTicks: [-4, -2, 0, 2], dxLabels: ["-4", "-2", "0", "2"],
    dyTicks: [0, 0.2, 0.4, 0.6], dyLabels: ["0.0", "0.2", "0.4", "0.6"] }
];

traces.forEach((tr, r) => {
  const allVals = tr.hi.flat().concat(tr.lo.flat());
  const yDom = expandDomain(allVals);
  const pT = makePanel(Object.assign({}, topStyle, {
    box: { l: tr.l, r: 331, t: rows[r].t, b: rows[r].b }, xDom: expandDomain([0, iterMax]), yDom,
    xTicks: traceXTicks, xLabels: traceXLabels, yTicks: tr.yTicks, yLabels: tr.yLabels, title: tr.title
  }));
  drawTrace(pT, [0, 1, 2].map(c => ({ hi: tr.hi[c], lo: tr.lo[c], color: chainColors[c] })), 1.0, 2);

  const allDens = tr.dens.flat().concat([0]);
  const pD = makePanel(Object.assign({}, topStyle, {
    box: { l: 370, r: 682.3, t: rows[r].t, b: rows[r].b }, xDom: expandDomain(d3.extent(allVals)), yDom: expandDomain(allDens),
    xTicks: tr.dxTicks, xLabels: tr.dxLabels, yTicks: tr.dyTicks, yLabels: tr.dyLabels, title: tr.title, yTitle: "density"
  }));
  drawDensity(pD, tr.densX, [0, 1, 2].map(c => ({ vals: tr.dens[c], color: chainColors[c] })), 0.8);
});

// sigma row
{
  const hi = [sigRedHi, sigGreenHi, sigBlueHi], lo = [sigRedLo, sigGreenLo, sigBlueLo];
  const allVals = hi.flat().concat(lo.flat());
  const sTicks = [0, 0.1, 0.2, 0.3, 0.4, 0.5], sLabels = ["0.0", "0.1", "0.2", "0.3", "0.4", "0.5"];
  const pT = makePanel(Object.assign({}, botStyle, {
    box: { l: 14.8, r: 333.8, t: rows[3].t, b: rows[3].b }, xDom: expandDomain([0, iterMax]), yDom: expandDomain(allVals),
    xTicks: traceXTicks, xLabels: traceXLabels, yTicks: sTicks, yLabels: sLabels, title: "sigma"
  }));
  drawTrace(pT, [0, 1, 2].map(c => ({ hi: hi[c], lo: lo[c], color: chainColors[c] })), 1.0, 1);

  const dens = [sigDensRed, sigDensGreen, sigDensBlue];
  const dyTicks = [0, 0.5, 1, 1.5, 2], dyLabels = ["0.0", "0.5", "1.0", "1.5", "2.0"];
  const pD = makePanel(Object.assign({}, botStyle, {
    box: { l: 366.8, r: 685.8, t: rows[3].t, b: rows[3].b }, xDom: expandDomain(d3.extent(allVals)), yDom: expandDomain(dens.flat().concat([0])),
    xTicks: sTicks, xLabels: sLabels, yTicks: dyTicks, yLabels: dyLabels, title: "sigma", yTitle: "density"
  }));
  drawDensity(pD, sigDensX, [0, 1, 2].map(c => ({ vals: dens[c], color: chainColors[c] })), 0.8);
}
</script>
</body></html>
